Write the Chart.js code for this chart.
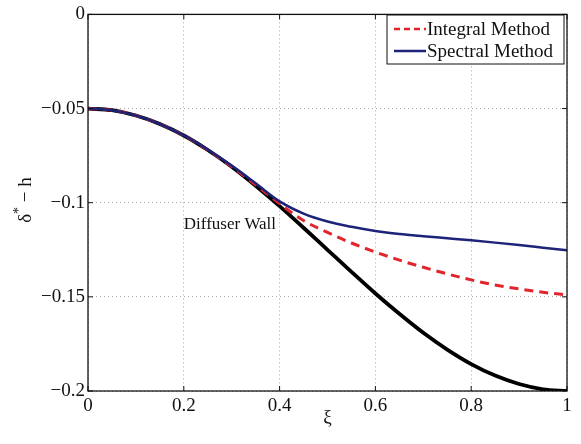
<!DOCTYPE html>
<html>
<head>
<meta charset="utf-8">
<script src="https://cdn.jsdelivr.net/npm/chart.js@4.4.1/dist/chart.umd.min.js"></script>
<style>
  html, body { margin: 0; padding: 0; background: #fff; }
  #wrap { width: 581px; height: 444px; }
</style>
</head>
<body>
<div id="wrap"><canvas id="c" width="581" height="444"></canvas></div>
<script>
// Streamwise coordinate ξ
const xi = [0, 0.05, 0.1, 0.15, 0.2, 0.25, 0.3, 0.35, 0.4, 0.45, 0.5,
            0.55, 0.6, 0.65, 0.7, 0.75, 0.8, 0.85, 0.9, 0.95, 1];

// Diffuser wall shape
const wall = [-0.0500, -0.0509, -0.0537, -0.0582, -0.0643, -0.0720, -0.0809, -0.0910,
              -0.1018, -0.1133, -0.1250, -0.1367, -0.1482, -0.1590, -0.1691, -0.1780,
              -0.1857, -0.1918, -0.1963, -0.1991, -0.2000];

// δ* − h from the integral method
const integral = [-0.0500, -0.0509, -0.0537, -0.0582, -0.0643, -0.0720, -0.0808, -0.0905,
                  -0.1005, -0.1095, -0.1158, -0.1214, -0.1262, -0.1305, -0.1343, -0.1378,
                  -0.1410, -0.1437, -0.1458, -0.1476, -0.1489];

// δ* − h from the spectral method
const spectral = [-0.0500, -0.0509, -0.0537, -0.0582, -0.0643, -0.0718, -0.0803, -0.0897,
                  -0.0993, -0.1058, -0.1100, -0.1128, -0.1150, -0.1166, -0.1178, -0.1189,
                  -0.1200, -0.1212, -0.1225, -0.1239, -0.1253];

const xTickLabels = ['0', '0.2', '0.4', '0.6', '0.8', '1'];
const yTickLabels = ['\u22120.2', '\u22120.15', '\u22120.1', '\u22120.05', '0'];

const serif = '"Liberation Serif", "DejaVu Serif", serif';

function pts(ys) { return xi.map((x, i) => ({ x: x, y: ys[i] })); }

// Frame, inward tick marks, legend and labels drawn on top of the plot
const decorations = {
  id: 'decorations',
  afterDatasetsDraw(chart) {
    const ctx = chart.ctx;
    const a = chart.chartArea;
    const xs = chart.scales.x, ys = chart.scales.y;
    ctx.save();

    // axes box
    ctx.strokeStyle = '#111';
    ctx.lineWidth = 1.3;
    ctx.strokeRect(a.left, a.top, a.right - a.left, a.bottom - a.top);

    // inward ticks
    ctx.lineWidth = 1;
    const tl = 5;
    xs.ticks.forEach(t => {
      const px = xs.getPixelForValue(t.value);
      ctx.beginPath();
      ctx.moveTo(px, a.bottom); ctx.lineTo(px, a.bottom - tl);
      ctx.moveTo(px, a.top); ctx.lineTo(px, a.top + tl);
      ctx.stroke();
    });
    ys.ticks.forEach(t => {
      const py = ys.getPixelForValue(t.value);
      ctx.beginPath();
      ctx.moveTo(a.left, py); ctx.lineTo(a.left + tl, py);
      ctx.moveTo(a.right, py); ctx.lineTo(a.right - tl, py);
      ctx.stroke();
    });

    // annotation
    ctx.fillStyle = '#111';
    ctx.font = '17px ' + serif;
    ctx.textAlign = 'left';
    ctx.textBaseline = 'middle';
    ctx.fillText('Diffuser Wall', xs.getPixelForValue(0.2), ys.getPixelForValue(-0.1115));

    // legend
    const lx = 387, ly = 15, lw = 177, lh = 49;
    ctx.fillStyle = '#fff';
    ctx.fillRect(lx, ly, lw, lh);
    ctx.strokeStyle = '#111';
    ctx.lineWidth = 1;
    ctx.strokeRect(lx, ly, lw, lh);
    const items = chart.data.datasets.filter(d => d.inLegend);
    items.forEach((d, i) => {
      const cy = ly + 14 + i * 22;
      ctx.beginPath();
      ctx.strokeStyle = d.borderColor;
      ctx.lineWidth = 2.5;
      ctx.setLineDash(d.borderDash ? [6, 4] : []);
      ctx.moveTo(lx + 7, cy); ctx.lineTo(lx + 39, cy);
      ctx.stroke();
      ctx.setLineDash([]);
      ctx.fillStyle = '#111';
      ctx.font = '19px ' + serif;
      ctx.textAlign = 'left';
      ctx.textBaseline = 'middle';
      ctx.fillText(d.label, lx + 40, cy + 1);
    });

    // x-axis title
    ctx.fillStyle = '#111';
    ctx.font = '19px ' + serif;
    ctx.textAlign = 'center';
    ctx.textBaseline = 'middle';
    ctx.fillText('\u03be', (a.left + a.right) / 2, a.bottom + 27);

    // y-axis title: δ* − h
    ctx.translate(26, 200);
    ctx.rotate(-Math.PI / 2);
    ctx.textAlign = 'left';
    ctx.textBaseline = 'middle';
    ctx.font = '19px ' + serif;
    const w1 = ctx.measureText('\u03b4').width;
    ctx.font = '14px ' + serif;
    const w2 = ctx.measureText('*').width;
    ctx.font = '19px ' + serif;
    const w3 = ctx.measureText(' \u2212 h').width;
    let x0 = -(w1 + w2 + w3) / 2;
    ctx.fillText('\u03b4', x0, 0);
    ctx.font = '14px ' + serif;
    ctx.fillText('*', x0 + w1, -7);
    ctx.font = '19px ' + serif;
    ctx.fillText(' \u2212 h', x0 + w1 + w2, 0);

    ctx.restore();
  }
};

new Chart(document.getElementById('c'), {
  type: 'line',
  data: {
    datasets: [
      { label: 'Diffuser Wall', data: pts(wall), borderColor: '#000', borderWidth: 3.8,
        pointRadius: 0, cubicInterpolationMode: 'monotone', inLegend: false, order: 3 },
      { label: 'Integral Method', data: pts(integral), borderColor: '#e0262c', borderWidth: 3,
        borderDash: [9, 6], pointRadius: 0, cubicInterpolationMode: 'monotone', inLegend: true, order: 2 },
      { label: 'Spectral Method', data: pts(spectral), borderColor: '#1c2378', borderWidth: 2.5,
        pointRadius: 0, cubicInterpolationMode: 'monotone', inLegend: true, order: 1 }
    ]
  },
  options: {
    responsive: false,
    animation: false,
    layout: { padding: { top: 12, right: 14, left: 0, bottom: 0 } },
    plugins: { legend: { display: false }, tooltip: { enabled: false } },
    scales: {
      x: {
        type: 'linear', min: 0, max: 1,
        afterBuildTicks(s) { s.ticks = xTickLabels.map(v => ({ value: parseFloat(v) })); },
        afterFit(s) { s.height = 53; },
        ticks: {
          padding: 4, color: '#111',
          font: { family: serif, size: 19 },
          callback: (v, i) => xTickLabels[i]
        },
        grid: { color: '#aaa', lineWidth: 1, drawTicks: false },
        border: { display: false, dash: [1, 3] }
      },
      y: {
        type: 'linear', min: -0.2, max: 0,
        afterBuildTicks(s) { s.ticks = yTickLabels.map(v => ({ value: parseFloat(v.replace('\u2212', '-')) })); },
        afterFit(s) { s.width = 88; },
        ticks: {
          padding: 3, color: '#111',
          font: { family: serif, size: 19 },
          callback: (v, i) => yTickLabels[i]
        },
        grid: { color: '#aaa', lineWidth: 1, drawTicks: false },
        border: { display: false, dash: [1, 3] }
      }
    }
  },
  plugins: [decorations]
});
</script>
</body>
</html>
